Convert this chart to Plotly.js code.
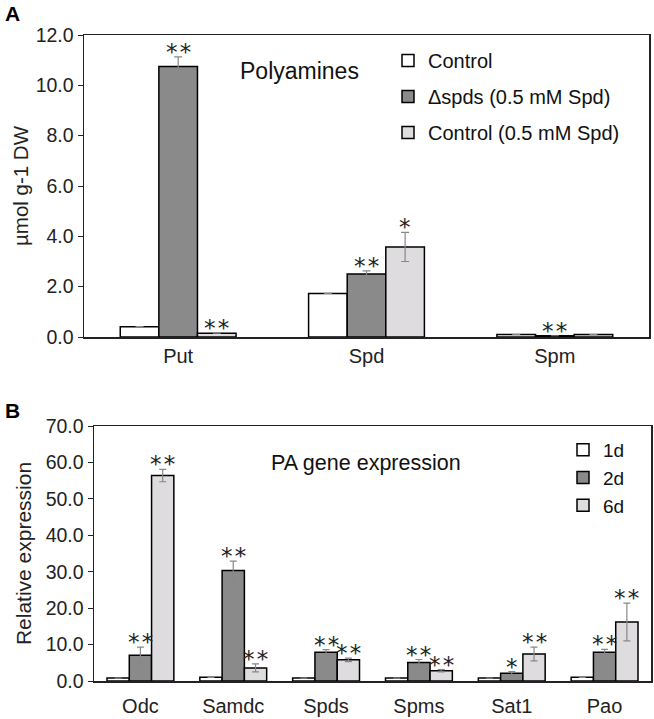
<!DOCTYPE html>
<html>
<head>
<meta charset="utf-8">
<script src="https://cdn.plot.ly/plotly-3.0.1.min.js"></script>
<style>html,body{margin:0;padding:0;background:#fff;}#chart{width:654px;height:719px;}</style>
</head>
<body>
<div id="chart"></div>
<script>
// Panel A data
const catsA = ["Put", "Spd", "Spm"];
const namesA = ["Control", "\u0394spds (0.5 mM Spd)", "Control (0.5 mM Spd)"];
const valsA = [
  [0.41, 1.73, 0.10],
  [10.75, 2.50, 0.05],
  [0.15, 3.58, 0.10]
];
const errA = [
  [0, 0, 0],
  [0.38, 0.13, 0],
  [0, 0.58, 0]
];
const sigA = [
  ["", "", ""],
  ["**", "**", "**"],
  ["**", "*", ""]
];
const ticksA = [0, 2, 4, 6, 8, 10, 12];

// Panel B data
const catsB = ["Odc", "Samdc", "Spds", "Spms", "Sat1", "Pao"];
const namesB = ["1d", "2d", "6d"];
const valsB = [
  [0.8, 1.0, 0.8, 0.8, 0.8, 1.0],
  [7.1, 30.3, 7.9, 5.1, 2.1, 7.9],
  [56.4, 3.6, 5.8, 2.8, 7.4, 16.2]
];
const errB = [
  [0, 0, 0, 0, 0, 0],
  [2.2, 2.6, 0.7, 0.8, 0.5, 0.8],
  [1.7, 1.1, 0.5, 0.3, 1.9, 5.2]
];
const sigB = [
  ["", "", "", "", "", ""],
  ["**", "**", "**", "**", "*", "**"],
  ["**", "**", "**", "**", "**", "**"]
];
const ticksB = [0, 10, 20, 30, 40, 50, 60, 70];

const colors = ["#ffffff", "#8a8a8a", "#dedcde"];
const gapA = 0.385, gapB = 0.28;
const bwA = (1 - gapA) / 3, bwB = (1 - gapB) / 3;
const W = 654, H = 719;

const traces = [];
namesA.forEach((n, j) => {
  traces.push({
    type: "bar", x: catsA, y: valsA[j], name: n, xaxis: "x", yaxis: "y", legend: "legend",
    legendgroup: "a" + j, width: bwA, offset: -1.5 * bwA + j * bwA,
    marker: {color: colors[j], line: {color: "#000", width: 1.5}},
    error_y: {type: "data", array: errA[j], visible: true, color: "#888", thickness: 1.2, width: 4}
  });
});
namesB.forEach((n, j) => {
  traces.push({
    type: "bar", x: catsB, y: valsB[j], name: n, xaxis: "x2", yaxis: "y2", legend: "legend2",
    width: bwB, offset: -1.5 * bwB + j * bwB,
    marker: {color: colors[j], line: {color: "#000", width: 1.5}},
    error_y: {type: "data", array: errB[j], visible: true, color: "#888", thickness: 1.2, width: 3.5}
  });
});

const annotations = [];
function addSig(vals, errs, sig, bw, xr, yr) {
  sig.forEach((row, j) => {
    row.forEach((s, i) => {
      if (!s) return;
      annotations.push({
        xref: xr, yref: yr, x: i + (j - 1) * bw, y: vals[j][i] + errs[j][i],
        text: s.split("").join("\u200a"), showarrow: false, yanchor: "bottom", yshift: -10,
        font: {family: "DejaVu Sans", size: 23, color: "#222"}
      });
    });
  });
}
addSig(valsA, errA, sigA, bwA, "x", "y");
addSig(valsB, errB, sigB, bwB, "x2", "y2");

annotations.push(
  {xref: "paper", yref: "paper", x: 3 / W, y: 1, xanchor: "left", yanchor: "top", showarrow: false,
   text: "<b>A</b>", font: {family: "Liberation Sans", size: 21, color: "#000"}},
  {xref: "paper", yref: "paper", x: 3 / W, y: 1 - 397 / H, xanchor: "left", yanchor: "top", showarrow: false,
   text: "<b>B</b>", font: {family: "Liberation Sans", size: 21, color: "#000"}},
  {xref: "paper", yref: "paper", x: 238 / W, y: 1 - 71 / H, xanchor: "left", yanchor: "middle", showarrow: false,
   text: "Polyamines", font: {family: "Liberation Sans", size: 23, color: "#111"}},
  {xref: "paper", yref: "paper", x: 269 / W, y: 1 - 463 / H, xanchor: "left", yanchor: "middle", showarrow: false,
   text: "PA gene expression", font: {family: "Liberation Sans", size: 21.5, color: "#111"}}
);

const font = {family: "Liberation Sans", size: 19, color: "#222"};
const layout = {
  width: W, height: H,
  margin: {l: 0, r: 0, t: 0, b: 0},
  paper_bgcolor: "#fff", plot_bgcolor: "#fff",
  font: font,
  barmode: "group",
  showlegend: true,
  xaxis: {domain: [84 / W, 649 / W], anchor: "y", type: "category", showline: true, mirror: true,
          linecolor: "#222", linewidth: 1.5, ticks: "", tickfont: {size: 20}, showgrid: false},
  yaxis: {domain: [1 - 337 / H, 1 - 35 / H], anchor: "x", range: [0, 12], tickvals: ticksA, tickformat: ".1f",
          showline: true, mirror: true, linecolor: "#222", linewidth: 1.5, ticks: "outside", ticklen: 5,
          tickcolor: "#222", showgrid: false, zeroline: false, tickfont: {size: 19.5},
          title: {text: "\u00b5mol g-1 DW", font: {size: 20.5}, standoff: 1}},
  xaxis2: {domain: [94 / W, 651 / W], anchor: "y2", type: "category", showline: true, mirror: true,
           linecolor: "#222", linewidth: 1.5, ticks: "", tickfont: {size: 20}, showgrid: false,
           ticklabelstandoff: 6},
  yaxis2: {domain: [1 - 681 / H, 1 - 426 / H], anchor: "x2", range: [0, 70], tickvals: ticksB, tickformat: ".1f",
           showline: true, mirror: true, linecolor: "#222", linewidth: 1.5, ticks: "outside", ticklen: 5,
           tickcolor: "#222", showgrid: false, zeroline: false, tickfont: {size: 19.5},
           title: {text: "Relative expression", font: {size: 21}, standoff: 8}},
  legend: {x: 388 / W, y: 1 - 41 / H, xanchor: "left", yanchor: "top", bgcolor: "rgba(0,0,0,0)",
           font: {size: 20, color: "#111"}, tracegroupgap: 7, itemwidth: 30, traceorder: "grouped"},
  legend2: {x: 563 / W, y: 1 - 431 / H, xanchor: "left", yanchor: "top", bgcolor: "rgba(0,0,0,0)",
            font: {size: 19, color: "#111"}, tracegroupgap: 0, itemwidth: 30, traceorder: "normal"},
  annotations: annotations
};

Plotly.newPlot("chart", traces, layout, {displayModeBar: false, staticPlot: true});
</script>
</body>
</html>
